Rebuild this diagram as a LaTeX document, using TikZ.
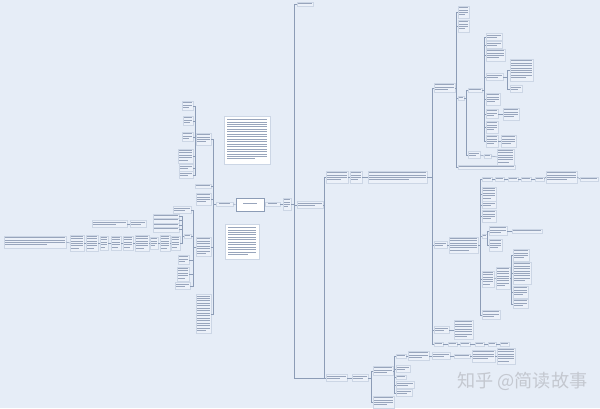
\documentclass[tikz,border=0pt]{standalone}
\usepackage{fontspec}
\newfontfamily\cjk{Noto Sans CJK SC}
\definecolor{bgc}{RGB}{230,237,247}
\definecolor{lnc}{RGB}{140,156,182}
\definecolor{txc}{RGB}{152,165,188}
\definecolor{bxc}{RGB}{204,214,229}
\definecolor{bxf}{RGB}{236,241,249}
\definecolor{wmc}{RGB}{196,200,208}
\newlength\px
\setlength\px{0.03cm}
% unreadable text of the map, drawn as lines
\newcommand\tx[2]{\vbox{\hsize=#1\px\color{txc}\foreach\k in {1,...,#2}{\hrule width \ifnum\k=#2 \ifnum#2>1 .7\fi\fi\hsize height.55pt\vskip1.55pt}}}
\begin{document}
\begin{tikzpicture}[x=0.03cm,y=-0.03cm,
    tp/.style={draw=bxc,fill=bxf,line width=0.25pt,inner sep=0.8pt},
    rt/.style={tp,anchor=west},
    lf/.style={tp,anchor=east},
    central/.style={draw=lnc,fill=white,line width=0.7pt,minimum width=0.84cm,minimum height=0.39cm,inner sep=0pt},
    note/.style={draw=bxc,fill=white,line width=0.3pt,inner sep=2.5pt},
    ln/.style={draw=lnc,line width=0.4pt}]

\fill[bgc] (0,0) rectangle (600,408);
\useasboundingbox (0,0) rectangle (600,408);

% centre
\node[central] (root) at (250,204.5) {\tx{14}{1}};
\node[tp,minimum width=0.51cm] (l0) at (224.5,204) {\tx{11}{1}};
\node[tp,minimum width=0.45cm] (r0) at (272.5,204) {\tx{9}{1}};
\node[rt] (r1) at (283,204) {\tx{6}{4}};
\draw[ln] (root.west) -- (l0.east);
\draw[ln] (root.east) -- (r0.west);
\draw[ln] (r0.east) -- (r1.west);

% notes
\node[note,anchor=north west] (note1) at (224,116) {\tx{40}{17}};
\node[note,anchor=north west] (note2) at (225,224) {\tx{28}{12}};

% right side
\coordinate (t1) at (294,204);
\node[rt] (a1) at (297,4) {\tx{14}{1}};
\node[rt] (a2) at (297,205) {\tx{24}{2}};
\draw[ln] (r1.east) -- (t1);
\foreach \c in {a1,a2} \draw[ln] (t1) |- (\c.west);

\coordinate (t2) at (324,205);
\node[rt] (b1) at (326,177) {\tx{20}{4}};
\node[rt] (b2) at (326,378) {\tx{19}{2}};
\draw[ln] (a2.east) -- (t2);
\foreach \c in {b1,b2} \draw[ln] (t2) |- (\c.west);
\draw[ln] (t1) |- (b2.west);
\node[rt] (b3) at (350,177) {\tx{10}{4}};
\node[rt] (b4) at (368,177) {\tx{57}{4}};
\draw[ln] (b1.east) -- (b3.west);
\draw[ln] (b3.east) -- (b4.west);

\coordinate (t3) at (432,177);
\node[rt] (c1) at (434,88) {\tx{19}{3}};
\node[rt] (c2) at (434,245) {\tx{11}{2}};
\node[rt] (c3) at (434,330) {\tx{13}{2}};
\node[rt] (c4) at (434,344) {\tx{7}{1}};
\draw[ln] (b4.east) -- (t3);
\foreach \c in {c1,c2,c3,c4} \draw[ln] (t3) |- (\c.west);

\coordinate (t4) at (456,88);
\node[rt] (d1) at (458,12) {\tx{9}{4}};
\node[rt] (d2) at (458,26) {\tx{9}{4}};
\node[rt] (d3) at (458,98) {\tx{4}{1}};
\node[rt] (d4) at (458,167) {\tx{55}{1}};
\draw[ln] (c1.east) -- (t4);
\foreach \c in {d1,d2,d3,d4} \draw[ln] (t4) |- (\c.west);

\coordinate (t5) at (466,98);
\node[rt] (e1) at (468,90) {\tx{12}{1}};
\node[rt] (e2) at (468,155) {\tx{10}{2}};
\node[rt] (e3) at (484,156) {\tx{5}{1}};
\node[rt] (e4) at (497,157) {\tx{15}{6}};
\draw[ln] (d3.east) -- (t5);
\foreach \c in {e1,e2} \draw[ln] (t5) |- (\c.west);
\draw[ln] (e2.east) -- (e3.west);
\draw[ln] (e3.east) -- (e4.west);

\coordinate (t6) at (484,90);
\node[rt] (f1) at (486,37) {\tx{14}{2}};
\node[rt] (f2) at (486,45) {\tx{14}{2}};
\node[rt] (f3) at (486,55) {\tx{17}{4}};
\node[rt] (f4) at (486,77) {\tx{15}{2}};
\node[rt] (f5) at (486,99) {\tx{12}{4}};
\node[rt] (f6) at (486,114) {\tx{10}{3}};
\node[rt] (f7) at (486,127) {\tx{10}{4}};
\node[rt] (f8) at (486,141) {\tx{10}{4}};
\draw[ln] (e1.east) -- (t6);
\foreach \c in {f1,f2,f3,f4,f5,f6,f7,f8} \draw[ln] (t6) |- (\c.west);

\coordinate (t7) at (507,77);
\node[rt] (g1) at (510,70) {\tx{21}{8}};
\node[rt] (g2) at (510,89) {\tx{10}{2}};
\node[rt] (g3) at (503,114) {\tx{14}{4}};
\node[rt] (g4) at (501,141) {\tx{13}{4}};
\draw[ln] (f4.east) -- (t7);
\foreach \c in {g1,g2} \draw[ln] (t7) |- (\c.west);
\draw[ln] (f6.east) -- (g3.west);
\draw[ln] (f8.east) -- (g4.west);

\node[rt] (h1) at (449,245) {\tx{27}{6}};
\node[rt] (h2) at (454,330) {\tx{17}{7}};
\draw[ln] (c2.east) -- (h1.west);
\draw[ln] (c3.east) -- (h2.west);
\node[rt] (c5) at (448,344) {\tx{7}{1}};
\node[rt] (c6) at (460,344) {\tx{8}{1}};
\node[rt] (c7) at (475,344) {\tx{7}{1}};
\node[rt] (c8) at (488,344) {\tx{6}{1}};
\node[rt] (c9) at (500,344) {\tx{7}{1}};
\foreach \a/\b in {c4/c5,c5/c6,c6/c7,c7/c8,c8/c9} \draw[ln] (\a.east) -- (\b.west);

\coordinate (t8) at (480,245);
\node[rt] (i1) at (482,179) {\tx{8}{1}};
\node[rt] (i8) at (482,194) {\tx{12}{5}};
\node[rt] (i9) at (482,205) {\tx{12}{2}};
\node[rt] (i10) at (482,216) {\tx{12}{4}};
\node[rt] (i11) at (482,236) {\tx{3}{1}};
\node[rt] (i12) at (482,279) {\tx{10}{6}};
\node[rt] (i13) at (482,315) {\tx{16}{3}};
\draw[ln] (h1.east) -- (t8);
\foreach \c in {i1,i8,i9,i10,i11,i12,i13} \draw[ln] (t8) |- (\c.west);
\node[rt] (i2) at (495,179) {\tx{7}{1}};
\node[rt] (i3) at (508,179) {\tx{8}{1}};
\node[rt] (i4) at (521,179) {\tx{8}{1}};
\node[rt] (i5) at (535,179) {\tx{7}{1}};
\node[rt] (i6) at (546,177) {\tx{29}{4}};
\node[rt] (i7) at (580,179) {\tx{16}{1}};
\foreach \a/\b in {i1/i2,i2/i3,i3/i4,i4/i5,i5/i6,i6/i7} \draw[ln] (\a.east) -- (\b.west);

\coordinate (t9) at (487.5,236);
\node[rt] (j1) at (489,231) {\tx{16}{3}};
\node[rt] (j2) at (512,231) {\tx{28}{1}};
\node[rt] (j3) at (489,245) {\tx{11}{4}};
\draw[ln] (i11.east) -- (t9);
\foreach \c in {j1,j3} \draw[ln] (t9) |- (\c.west);
\draw[ln] (j1.east) -- (j2.west);

\node[rt] (j4) at (496,278) {\tx{12}{8}};
\draw[ln] (i12.east) -- (j4.west);
\coordinate (t10) at (511,278);
\node[rt] (k1) at (513,255) {\tx{14}{4}};
\node[rt] (k2) at (513,273) {\tx{16}{8}};
\node[rt] (k3) at (513,292) {\tx{13}{4}};
\node[rt] (k4) at (513,304) {\tx{13}{3}};
\draw[ln] (j4.east) -- (t10);
\foreach \c in {k1,k2,k3,k4} \draw[ln] (t10) |- (\c.west);

\node[rt] (b5) at (352,378) {\tx{14}{2}};
\draw[ln] (b2.east) -- (b5.west);
\coordinate (t11) at (371,378);
\node[rt] (m1) at (373,371) {\tx{18}{3}};
\node[rt] (m2) at (373,402) {\tx{19}{4}};
\draw[ln] (b5.east) -- (t11);
\foreach \c in {m1,m2} \draw[ln] (t11) |- (\c.west);

\coordinate (t12) at (394,371);
\node[rt] (n1) at (396,356) {\tx{8}{1}};
\node[rt] (n2) at (396,369) {\tx{12}{2}};
\node[rt] (n3) at (396,377) {\tx{8}{1}};
\node[rt] (n4) at (396,385) {\tx{16}{2}};
\node[rt] (n5) at (396,393) {\tx{14}{2}};
\draw[ln] (m1.east) -- (t12);
\foreach \c in {n1,n2,n3,n4,n5} \draw[ln] (t12) |- (\c.west);
\node[rt] (o1) at (408,356) {\tx{19}{3}};
\node[rt] (o2) at (432,356) {\tx{16}{2}};
\node[rt] (o3) at (454,356) {\tx{14}{1}};
\node[rt] (o4) at (472,356) {\tx{21}{4}};
\node[rt] (o5) at (497,356) {\tx{16}{6}};
\foreach \a/\b in {n1/o1,o1/o2,o2/o3,o3/o4,o4/o5} \draw[ln] (\a.east) -- (\b.west);

% left side
\coordinate (tL) at (213,204);
\node[lf] (p1) at (211,139) {\tx{13}{4}};
\node[lf] (p2) at (211,186) {\tx{14}{1}};
\node[lf] (p3) at (211,199) {\tx{13}{4}};
\node[lf] (p4) at (211,247) {\tx{13}{7}};
\node[lf] (p5) at (211,314) {\tx{13}{15}};
\draw[ln] (l0.west) -- (tL);
\foreach \c in {p1,p2,p3,p4,p5} \draw[ln] (tL) |- (\c.east);

\coordinate (tP) at (195,139);
\node[lf] (q1) at (193,106) {\tx{9}{3}};
\node[lf] (q2) at (193,121) {\tx{8}{3}};
\node[lf] (q3) at (193,137) {\tx{9}{3}};
\node[lf] (q4) at (193,156) {\tx{13}{5}};
\node[lf] (q5) at (193,168) {\tx{12}{2}};
\node[lf] (q6) at (193,175) {\tx{12}{2}};
\draw[ln] (p1.west) -- (tP);
\foreach \c in {q1,q2,q3,q4,q5,q6} \draw[ln] (tP) |- (\c.east);

\coordinate (tQ) at (193,247);
\node[lf] (s1) at (191,210) {\tx{16}{2}};
\node[lf] (s2) at (191,236) {\tx{5}{1}};
\node[lf] (s3) at (189,260) {\tx{9}{3}};
\node[lf] (s4) at (189,274) {\tx{10}{5}};
\node[lf] (s5) at (190,286) {\tx{13}{2}};
\draw[ln] (p4.west) -- (tQ);
\foreach \c in {s1,s2,s3,s4,s5} \draw[ln] (tQ) |- (\c.east);

\coordinate (tS) at (182,236);
\node[lf] (x1) at (179,216) {\tx{24}{1}};
\node[lf] (x2) at (179,220.5) {\tx{24}{1}};
\node[lf] (x3) at (179,225) {\tx{24}{1}};
\node[lf] (x4) at (179,229.5) {\tx{24}{1}};
\node[lf] (v1) at (180,243) {\tx{7}{5}};
\draw[ln] (s2.west) -- (tS);
\foreach \c in {x1,x2,x3,x4,v1} \draw[ln] (tS) |- (\c.east);
\node[lf] (v2) at (170,243) {\tx{8}{6}};
\node[lf] (v3) at (158,243) {\tx{6}{4}};
\node[lf] (v4) at (149,243) {\tx{12}{6}};
\node[lf] (v5) at (133,243) {\tx{8}{5}};
\node[lf] (v6) at (121,243) {\tx{8}{5}};
\node[lf] (v7) at (108,243) {\tx{6}{5}};
\node[lf] (v8) at (98,243) {\tx{10}{6}};
\node[lf] (v9) at (84,243) {\tx{12}{6}};
\node[lf] (y1) at (66,242) {\tx{60}{4}};
\foreach \a/\b in {v1/v2,v2/v3,v3/v4,v4/v5,v5/v6,v6/v7,v7/v8,v8/v9,v9/y1} \draw[ln] (\a.west) -- (\b.east);
\node[lf] (w2) at (146,224) {\tx{14}{2}};
\node[lf] (w1) at (127,224) {\tx{33}{2}};
\draw[ln] (w2.west) -- (w1.east);

% watermark
\node[text=wmc,font=\cjk\fontsize{15.5}{15.5}\selectfont,anchor=west] (wm) at (453,381) {知乎 @简读故事};
\end{tikzpicture}
\end{document}
